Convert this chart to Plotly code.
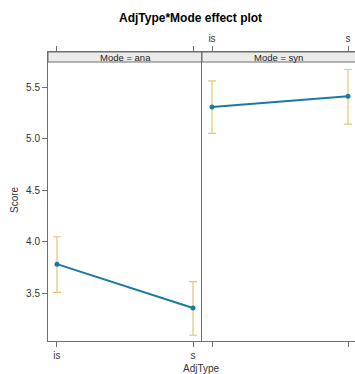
import plotly.graph_objects as go
from plotly.subplots import make_subplots

adj_types = ["is", "s"]
modes = ["ana", "syn"]
fit_ana = [3.78, 3.355]
lower_ana = [3.507, 3.09]
upper_ana = [4.046, 3.61]
fit_syn = [5.306, 5.41]
lower_syn = [5.05, 5.14]
upper_syn = [5.56, 5.67]

LINE = "#1b79a5"
CI = "#e2c86e"
AX = "#6e6e6e"
FONT = "Liberation Sans, Arial, sans-serif"

fig = make_subplots(rows=1, cols=2, shared_yaxes=True, horizontal_spacing=0)

series = [(fit_ana, lower_ana, upper_ana), (fit_syn, lower_syn, upper_syn)]
for i, (fit, lo, up) in enumerate(series):
    col = i + 1
    fig.add_trace(go.Scatter(
        x=adj_types, y=fit, mode="markers",
        marker=dict(size=1, color="rgba(0,0,0,0)"),
        error_y=dict(type="data", symmetric=False,
                     array=[u - f for u, f in zip(up, fit)],
                     arrayminus=[f - l for f, l in zip(fit, lo)],
                     color=CI, thickness=1.2, width=4),
        showlegend=False, hoverinfo="skip"), row=1, col=col)
    fig.add_trace(go.Scatter(
        x=adj_types, y=fit, mode="lines+markers",
        line=dict(color=LINE, width=2),
        marker=dict(color=LINE, size=5),
        showlegend=False), row=1, col=col)

W, H = 355, 374
ml, mt, mb, mr = 48, 52, 33, 0
pw = W - ml - mr
ph = H - mt - mb
split = 154 / pw

tf = dict(size=10, color="#333333")
fig.update_layout(
    width=W, height=H, autosize=False,
    margin=dict(l=ml, r=mr, t=mt, b=mb, pad=0, autoexpand=False),
    paper_bgcolor="white", plot_bgcolor="white",
    font=dict(family=FONT, size=10, color="#333333"),
    xaxis=dict(domain=[0, split], type="category", range=[-0.066, 1.066],
               showline=True, linecolor=AX, linewidth=1, mirror="ticks",
               ticks="outside", ticklen=5, tickcolor=AX, showgrid=False,
               zeroline=False, tickfont=tf, automargin=False),
    xaxis2=dict(domain=[split, 1], type="category", range=[-0.0735, 1.0515],
                side="top", showline=True, linecolor=AX, linewidth=1, mirror="ticks",
                ticks="outside", ticklen=5, tickcolor=AX, showgrid=False,
                zeroline=False, tickfont=tf, automargin=False),
    yaxis=dict(range=[3.034, 5.84], tickvals=[3.5, 4.0, 4.5, 5.0, 5.5],
               ticktext=["3.5", "4.0", "4.5", "5.0", "5.5"],
               showline=True, linecolor=AX, linewidth=1, mirror=False,
               ticks="outside", ticklen=5, tickcolor=AX, showgrid=False,
               zeroline=False, tickfont=tf, automargin=False),
    yaxis2=dict(showline=True, linecolor=AX, linewidth=1, mirror=False,
                showgrid=False, zeroline=False, ticks="", automargin=False),
)

strip_h = 10 / ph
for i, m in enumerate(modes):
    xr = "x domain" if i == 0 else "x2 domain"
    fig.add_shape(type="rect", xref=xr, yref="paper",
                  x0=0, x1=1 if i == 0 else 1.02, y0=1 - strip_h, y1=1,
                  fillcolor="#ebebeb", line=dict(color=AX, width=1), layer="below")
    fig.add_annotation(xref=xr, yref="paper", x=0.5, y=1 - strip_h / 2,
                       text=f"Mode = {m}", showarrow=False,
                       font=dict(family=FONT, size=9.5, color="#222222"),
                       xanchor="center", yanchor="middle")

fig.add_annotation(xref="paper", yref="paper", x=(190 - ml) / pw, y=1 + (mt - 18) / ph,
                   text="<b>AdjType*Mode effect plot</b>", showarrow=False,
                   font=dict(family=FONT, size=12, color="#000000"),
                   xanchor="center", yanchor="middle")
fig.add_annotation(xref="paper", yref="paper", x=(14 - ml) / pw, y=(H - mb - 200) / ph,
                   text="Score", textangle=-90, showarrow=False,
                   font=dict(family=FONT, size=10, color="#333333"),
                   xanchor="center", yanchor="middle")
fig.add_annotation(xref="paper", yref="paper", x=(201 - ml) / pw, y=-(368 - (H - mb)) / ph,
                   text="AdjType", showarrow=False,
                   font=dict(family=FONT, size=10, color="#333333"),
                   xanchor="center", yanchor="middle")

fig.write_html("out.html", config={"displayModeBar": False},
               post_script="document.body.style.margin='0';document.body.style.overflow='hidden';")
